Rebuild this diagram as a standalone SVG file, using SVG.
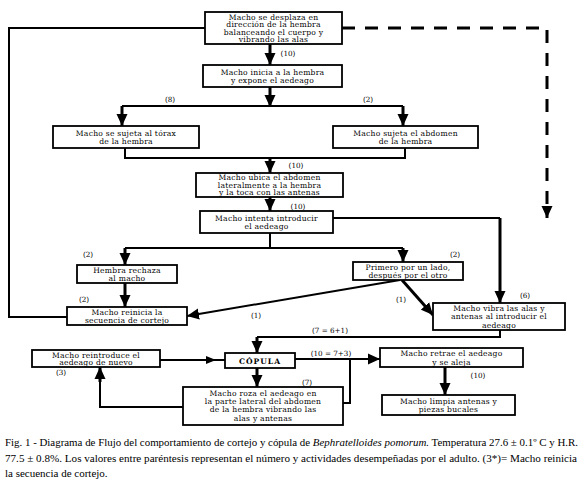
<svg xmlns="http://www.w3.org/2000/svg" width="587" height="485" viewBox="0 0 587 485">
<style>
.b{fill:#fff;stroke:#000;stroke-width:1.8}
.t{font-family:"DejaVu Serif","Liberation Serif",serif;font-size:7.6px;letter-spacing:0.25px;text-anchor:middle;fill:#000}
.l{font-family:"DejaVu Serif","Liberation Serif",serif;font-size:7.2px;text-anchor:middle;fill:#000}
.c{stroke:#000;stroke-width:3;fill:none}
.n{stroke:#000;stroke-width:2;fill:none}
.cap{font-family:"Liberation Serif",serif;font-size:11px;fill:#000}
</style>
<defs>
<marker id="a" markerUnits="userSpaceOnUse" markerWidth="12" markerHeight="12" viewBox="0 0 12 12" refX="12" refY="6" orient="auto"><path d="M0,0.5 L12,6 L0,11.5 Z" fill="#000"/></marker>
</defs>
<rect width="587" height="485" fill="#fff"/>
<g id="connectors">
<path class="n" d="M205,28 H9 V317 H67"/>
<path class="c" d="M342,28 H547 V218" stroke-dasharray="13,10" marker-end="url(#a)"/>
<path class="c" d="M270,44 V65" marker-end="url(#a)"/>
<path class="c" d="M270,87 V107" marker-end="url(#a)"/>
<path class="n" d="M122,106 H403"/>
<path class="c" d="M122,106 V126" marker-end="url(#a)"/>
<path class="c" d="M403,106 V126" marker-end="url(#a)"/>
<path class="n" d="M125,148 V158 H405 V148"/>
<path class="c" d="M270,158 V173" marker-end="url(#a)"/>
<path class="c" d="M270,197 V211" marker-end="url(#a)"/>
<path class="n" d="M333,218 H500"/>
<path class="c" d="M500,218 V303" marker-end="url(#a)"/>
<path class="n" d="M270,233 V248 H125 M270,248 H403"/>
<path class="c" d="M125,248 V265" marker-end="url(#a)"/>
<path class="c" d="M403,248 V262" marker-end="url(#a)"/>
<path class="c" d="M125,283 V307" marker-end="url(#a)"/>
<path class="n" d="M400,280 L187,316" marker-end="url(#a)"/>
<path class="c" d="M402,280 L433,315" marker-end="url(#a)"/>
<path class="n" d="M500,330 V337 H257"/>
<path class="c" d="M257,337 V353" marker-end="url(#a)"/>
<path class="n" d="M160,360 H225"/>
<path d="M206,356 L216,360 L206,364 Z" fill="#000"/>
<path class="c" d="M257,368 V387" marker-end="url(#a)"/>
<path class="n" d="M295,359 H380" marker-end="url(#a)"/>
<path class="n" d="M343,403 H350 V359"/>
<path class="n" d="M183,407 H100 V380"/>
<path class="c" d="M100,382 V367" marker-end="url(#a)"/>
<path class="c" d="M445,367 V395" marker-end="url(#a)"/>
</g>
<g id="n1"><rect class="b" x="205" y="12" width="137" height="32"/>
<text class="t" x="273.5" y="19.5">Macho se desplaza en</text><text class="t" x="273.5" y="27">dirección de la hembra</text><text class="t" x="273.5" y="34.5">balanceando el cuerpo y</text><text class="t" x="273.5" y="42">vibrando las alas</text></g>
<g id="n2"><rect class="b" x="203" y="65" width="139" height="22"/>
<text class="t" x="272.5" y="74.5">Macho inicia a la hembra</text><text class="t" x="272.5" y="83">y expone el aedeago</text></g>
<g id="n3"><rect class="b" x="53" y="126" width="146" height="22"/>
<text class="t" x="126" y="135.5">Macho se sujeta al tórax</text><text class="t" x="126" y="144">de la hembra</text></g>
<g id="n4"><rect class="b" x="333" y="126" width="145" height="22"/>
<text class="t" x="405.5" y="135.5">Macho sujeta el abdomen</text><text class="t" x="405.5" y="144">de la hembra</text></g>
<g id="n5"><rect class="b" x="196" y="173" width="147" height="24"/>
<text class="t" x="269.5" y="180">Macho ubica el abdomen</text><text class="t" x="269.5" y="187.5">lateralmente a la hembra</text><text class="t" x="269.5" y="195">y la toca con las antenas</text></g>
<g id="n6"><rect class="b" x="200" y="211" width="133" height="22"/>
<text class="t" x="266.5" y="220.5">Macho intenta introducir</text><text class="t" x="266.5" y="229">el aedeago</text></g>
<g id="n7"><rect class="b" x="77" y="265" width="100" height="18"/>
<text class="t" x="127" y="273">Hembra rechaza</text><text class="t" x="127" y="281">al macho</text></g>
<g id="n8"><rect class="b" x="353" y="262" width="110" height="18"/>
<text class="t" x="408" y="270">Primero por un lado,</text><text class="t" x="408" y="278">después por el otro</text></g>
<g id="n9"><rect class="b" x="67" y="307" width="120" height="18"/>
<text class="t" x="127" y="315">Macho reinicia la</text><text class="t" x="127" y="323">secuencia de cortejo</text></g>
<g id="n10"><rect class="b" x="433" y="303" width="132" height="27"/>
<text class="t" x="499" y="311">Macho vibra las alas y</text><text class="t" x="499" y="319">antenas al introducir el</text><text class="t" x="499" y="327.5">aedeago</text></g>
<g id="n11"><rect class="b" x="32" y="350" width="128" height="17"/>
<text class="t" x="96" y="357.5">Macho reintroduce el</text><text class="t" x="96" y="365">aedeago de nuevo</text></g>
<g id="n12"><rect class="b" x="225" y="353" width="70" height="15"/>
<text class="t" x="260" y="363.5" style="font-weight:bold;letter-spacing:1px">CÓPULA</text></g>
<g id="n13"><rect class="b" x="380" y="348" width="143" height="19"/>
<text class="t" x="451.5" y="356">Macho retrae el aedeago</text><text class="t" x="451.5" y="364.5">y se aleja</text></g>
<g id="n14"><rect class="b" x="183" y="387" width="160" height="38"/>
<text class="t" x="263" y="396">Macho roza el aedeago en</text><text class="t" x="263" y="404">la parte lateral del abdomen</text><text class="t" x="263" y="412">de la hembra vibrando las</text><text class="t" x="263" y="420.5">alas y antenas</text></g>
<g id="n15"><rect class="b" x="382" y="395" width="133" height="20"/>
<text class="t" x="448.5" y="403.5">Macho limpia antenas y</text><text class="t" x="448.5" y="412">piezas bucales</text></g>
<g id="labels">
<text class="l" x="288" y="56">(10)</text>
<text class="l" x="170" y="102">(8)</text>
<text class="l" x="368" y="102">(2)</text>
<text class="l" x="296" y="168">(10)</text>
<text class="l" x="298" y="209">(10)</text>
<text class="l" x="88" y="257">(2)</text>
<text class="l" x="84" y="302">(2)</text>
<text class="l" x="455" y="257">(2)</text>
<text class="l" x="256" y="318">(1)</text>
<text class="l" x="401" y="302">(1)</text>
<text class="l" x="525" y="298">(6)</text>
<text class="l" x="330" y="333">(7 = 6+1)</text>
<text class="l" x="331" y="356">(10 = 7+3)</text>
<text class="l" x="61" y="375">(3)</text>
<text class="l" x="307" y="385">(7)</text>
<text class="l" x="478" y="378">(10)</text>
</g>
<g id="caption">
<text class="cap" x="5" y="446" textLength="573" lengthAdjust="spacingAndGlyphs">Fig. 1 - Diagrama de Flujo del comportamiento de cortejo y cópula de <tspan font-style="italic">Bephratelloides pomorum.</tspan> Temperatura 27.6 ± 0.1º C y H.R.</text>
<text class="cap" x="5" y="462" textLength="572" lengthAdjust="spacingAndGlyphs">77.5 ± 0.8%. Los valores entre paréntesis representan el número y actividades desempeñadas por el adulto. (3*)= Macho reinicia</text>
<text class="cap" x="5" y="477">la secuencia de cortejo.</text>
</g>
</svg>
